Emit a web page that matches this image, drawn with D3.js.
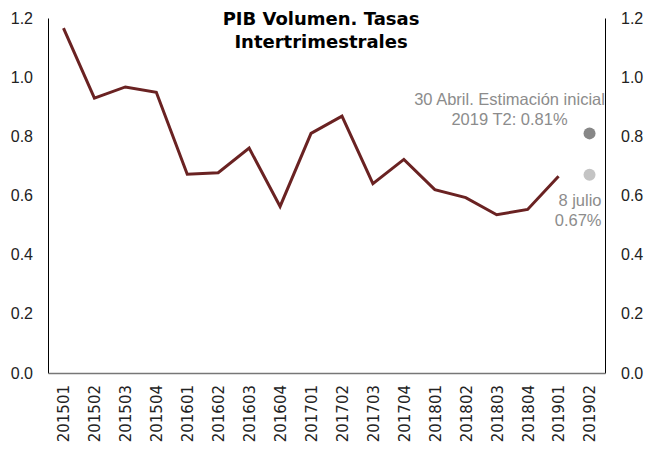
<!DOCTYPE html>
<html>
<head>
<meta charset="utf-8">
<script src="https://cdn.jsdelivr.net/npm/d3@7"></script>
<style>
  body { margin: 0; background: #fff; }
  text { font-family: "Liberation Sans", Arial, sans-serif; }
</style>
</head>
<body>
<script>
// quarters and PIB growth rates (quarter on quarter, %)
var quarters = ["201501","201502","201503","201504","201601","201602","201603","201604",
                "201701","201702","201703","201704","201801","201802","201803","201804",
                "201901","201902"];
var values = [1.166, 0.929, 0.967, 0.949, 0.672, 0.677, 0.76, 0.563,
              0.81, 0.868, 0.64, 0.722, 0.62, 0.593, 0.535, 0.553, 0.665];
var estimates = [
  {key: "201902", value: 0.81, color: "#878787"},
  {key: "201902", value: 0.67, color: "#c4c4c4"}
];
var yTicks = [0, 0.2, 0.4, 0.6, 0.8, 1.0, 1.2];

var margin = {top: 18, right: 40, bottom: 77, left: 48},
    width = 645 - margin.left - margin.right,
    height = 450 - margin.top - margin.bottom;

var svg = d3.select("body").append("svg")
    .attr("width", 645)
    .attr("height", 450);

var g = svg.append("g")
    .attr("transform", "translate(" + margin.left + "," + margin.top + ")");

var xScale = d3.scalePoint().domain(quarters).range([0, width]).padding(0.5),
    yScale = d3.scaleLinear().domain([0, 1.2]).range([height, 0]);

// left axis
g.append("g")
    .call(d3.axisLeft(yScale).tickValues(yTicks).tickSize(0).tickPadding(15)
      .tickFormat(d3.format(".1f")))
    .call(function(a) {
      a.select(".domain").attr("stroke", "#000");
      a.selectAll("text").attr("font-size", 16).attr("fill", "#222")
        .style("font-family", "Liberation Sans, Arial, sans-serif");
    });

// right axis
g.append("g")
    .attr("transform", "translate(" + width + ",0)")
    .call(d3.axisRight(yScale).tickValues(yTicks).tickSize(0).tickPadding(16)
      .tickFormat(d3.format(".1f")))
    .call(function(a) {
      a.select(".domain").attr("stroke", "#000");
      a.selectAll("text").attr("font-size", 16).attr("fill", "#222")
        .style("font-family", "Liberation Sans, Arial, sans-serif");
    });

// bottom axis
g.append("g")
    .attr("transform", "translate(0," + height + ")")
    .call(d3.axisBottom(xScale).tickSize(0).tickPadding(0))
    .call(function(a) {
      a.select(".domain").attr("stroke", "#777").attr("stroke-width", 1.5);
      a.selectAll("text")
        .attr("font-size", 15).attr("fill", "#222")
        .style("font-family", "DejaVu Sans, Verdana, sans-serif")
        .attr("text-anchor", "end")
        .attr("transform", "rotate(-90)")
        .attr("x", -12).attr("y", 0).attr("dy", "0.36em");
    });

// line
var line = d3.line()
    .x(function(d, i) { return xScale(quarters[i]); })
    .y(function(d) { return yScale(d); });

g.append("path")
    .datum(values)
    .attr("fill", "none")
    .attr("stroke", "#6a2222")
    .attr("stroke-width", 3)
    .attr("d", line);

// estimate dots
g.selectAll(".est")
    .data(estimates)
  .enter().append("circle")
    .attr("class", "est")
    .attr("cx", function(d) { return xScale(d.key); })
    .attr("cy", function(d) { return yScale(d.value); })
    .attr("r", 6)
    .attr("fill", function(d) { return d.color; });

// annotations
var x2 = xScale("201902");
g.append("text")
    .attr("x", x2 - 80).attr("y", yScale(0.81) - 28)
    .attr("text-anchor", "middle").attr("font-size", 16.5).attr("fill", "#8c8c8c")
    .text("30 Abril. Estimación inicial");
g.append("text")
    .attr("x", x2 - 80).attr("y", yScale(0.81) - 8)
    .attr("text-anchor", "middle").attr("font-size", 16.5).attr("fill", "#8c8c8c")
    .text("2019 T2: 0.81%");
g.append("text")
    .attr("x", x2 + 12).attr("y", yScale(0.67) + 31)
    .attr("text-anchor", "end").attr("font-size", 16.5).attr("fill", "#8c8c8c")
    .text("8 julio");
g.append("text")
    .attr("x", x2 + 12).attr("y", yScale(0.67) + 51)
    .attr("text-anchor", "end").attr("font-size", 16.5).attr("fill", "#8c8c8c")
    .text("0.67%");

// title
svg.append("text")
    .attr("x", 321).attr("y", 25)
    .attr("text-anchor", "middle")
    .attr("font-size", 18).attr("font-weight", "bold")
    .style("font-family", "DejaVu Sans, Verdana, sans-serif")
    .text("PIB Volumen. Tasas");
svg.append("text")
    .attr("x", 321).attr("y", 48)
    .attr("text-anchor", "middle")
    .attr("font-size", 18).attr("font-weight", "bold")
    .style("font-family", "DejaVu Sans, Verdana, sans-serif")
    .text("Intertrimestrales");
</script>
</body>
</html>
